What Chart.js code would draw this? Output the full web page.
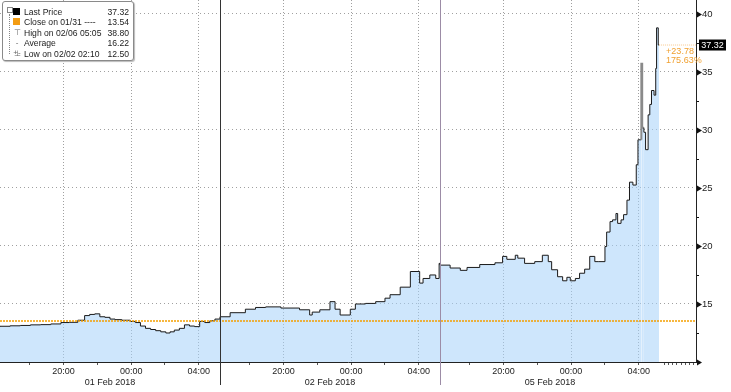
<!DOCTYPE html>
<html>
<head>
<meta charset="utf-8">
<script src="https://cdn.jsdelivr.net/npm/chart.js@4.4.1/dist/chart.umd.min.js"></script>
<style>
  body { margin: 0; background: #fff; }
  #wrap { position: relative; width: 731px; height: 392px; }
  #legend {
    position: absolute; left: 2px; top: 1px; width: 130px; height: 58px;
    background: #fff; border: 1px solid #8a8a8a; border-radius: 3px;
    box-shadow: 1px 1px 1px #bbb;
    font: 8.6px 'Liberation Sans', sans-serif; color: #222;
  }
  #legend .row { position: absolute; left: 0; width: 126px; height: 10px; line-height: 10px; }
  #legend .name { position: absolute; left: 21px; }
  #legend .val { position: absolute; right: 0; }
  #legend .icon { position: absolute; left: 10px; top: 1px; width: 7px; height: 7px; }
  #legend .glyph { position: absolute; left: 10px; width: 8px; text-align: center; color: #666; font-size: 8px; }
  #legend .tree { position: absolute; left: 6px; top: 12px; width: 3px; height: 40px; border-left: 1px dotted #888; }
  #legend .minus { position: absolute; left: 4px; top: 5px; width: 4px; height: 4px; border: 1px solid #888; background: #fff; }
</style>
</head>
<body>
<div id="wrap">
  <canvas id="vixChart" width="731" height="392"></canvas>
  <div id="legend"></div>
</div>
<script>
  // hours after session open (16:15), each session 13 hours long
  const sessionLen = 13;
  const sessionDates = ['01 Feb 2018', '02 Feb 2018', '05 Feb 2018'];
  const tickHours = [1.75, 3.75, 5.75, 7.75, 9.75, 11.75];
  const tickNames = ['', '20:00', '', '00:00', '', '04:00'];

  const s1Hours = [0, 0.6, 1.2, 1.8, 2.4, 3.0, 3.6, 4.1, 4.6, 5.0, 5.3, 5.6, 5.9, 6.2, 6.5, 6.8, 7.2, 7.7, 8.0, 8.3,
    8.6, 8.9, 9.2, 9.5, 9.8, 10.05, 10.3, 10.6, 10.9, 11.2, 11.5, 11.8, 12.1, 12.4, 12.7];
  const s1Price = [13.05, 13.08, 13.12, 13.15, 13.2, 13.22, 13.28, 13.4, 13.42, 13.6, 14.0, 14.1, 14.15, 13.9, 13.85, 13.7, 13.65, 13.6, 13.5, 13.4,
    13.1, 12.9, 12.8, 12.7, 12.6, 12.5, 12.6, 12.75, 12.9, 13.2, 13.1, 13.05, 13.5, 13.4, 13.55];

  const s2Hours = [13.0, 13.6, 14.5, 15.1, 15.7, 16.6, 17.7, 18.3, 18.45, 18.9, 19.5, 19.8, 20.1, 20.7, 21.0, 21.6, 22.2, 22.75,
    23.05, 23.65, 24.25, 24.8, 25.0, 25.4, 25.75, 25.95];
  const s2Price = [13.7, 13.9, 14.25, 14.55, 14.7, 14.75, 14.65, 14.5, 14.05, 14.3, 14.5, 15.2, 14.55, 14.05, 14.55, 15.0, 15.05, 15.2,
    15.5, 15.8, 16.45, 17.8, 16.8, 17.2, 17.5, 17.2];

  const s3Hours = [26.0, 26.6, 27.2, 27.6, 28.35, 29.25, 29.7, 29.95, 30.45, 30.6, 31.0, 31.6, 32.05, 32.4, 32.6, 32.95, 33.25, 33.5,
    33.7, 34.0, 34.25, 34.55, 34.85, 35.15, 35.35, 35.75, 35.85, 36.05, 36.2, 36.4, 36.5, 36.7, 36.85, 37.05, 37.2, 37.4, 37.6, 37.7,
    37.9, 37.95, 38.05, 38.15, 38.3, 38.4, 38.5, 38.65, 38.75, 38.8, 38.9, 38.95];
  const s3Price = [18.5, 18.35, 18.1, 17.9, 18.15, 18.4, 18.55, 19.1, 18.85, 19.2, 18.95, 18.5, 18.65, 19.2, 18.65, 17.95, 17.35, 17.0,
    17.3, 17.0, 17.2, 17.65, 18.0, 19.1, 18.65, 18.65, 19.95, 21.2, 22.1, 22.25, 22.8, 21.95, 22.25, 22.7, 23.95, 25.5, 25.25, 27.0,
    29.15, 35.7, 30.2, 29.8, 28.3, 31.3, 32.2, 33.4, 33.0, 35.3, 38.8, 37.32];

  const closePrice = 13.54;
  const lastPrice = 37.32;
  const spikePrice = 35.7;
  const legendNames = ['Last Price', 'Close on 01/31 ----', 'High on 02/06 05:05', 'Average', 'Low on 02/02 02:10'];
  const legendValues = ['37.32', '13.54', '38.80', '16.22', '12.50'];

  const xMax = 41.13;
  const hours = s1Hours.concat(s2Hours, s3Hours);
  const price = s1Price.concat(s2Price, s3Price);
  const lastHour = hours[hours.length - 1];
  const spikeIndex = price.indexOf(spikePrice);

  // x ticks: time labels, date labels (mid session), minor marks
  let xTicks = [];
  for (let s = 0; s < sessionDates.length; s++) {
    tickHours.forEach((h, i) => {
      const v = s * sessionLen + h;
      xTicks.push({ value: v, label: tickNames[i], kind: tickNames[i] ? 'major' : 'minor' });
    });
    xTicks.push({ value: s * sessionLen + sessionLen / 2, label: ['', sessionDates[s]], kind: 'date' });
  }
  for (let v = 39.25; v < xMax; v += 0.25) xTicks.push({ value: v, label: '', kind: 'minor' });
  xTicks.sort((a, b) => a.value - b.value);

  // legend
  const legendEl = document.getElementById('legend');
  let html = '<div class="minus"></div><div class="tree"></div>';
  legendNames.forEach((name, i) => {
    let icon = '';
    if (i === 0) icon = '<div class="icon" style="background:#000"></div>';
    else if (i === 1) icon = '<div class="icon" style="background:#f39c12"></div>';
    else if (i === 2) icon = '<div class="glyph">&#8868;</div>';
    else if (i === 3) icon = '<div class="glyph">-+-</div>';
    else icon = '<div class="glyph">&#8869;</div>';
    html += '<div class="row" style="top:' + (5 + i * 10.4) + 'px">' + icon +
      '<span class="name">' + name + '</span><span class="val">' + legendValues[i] + '</span></div>';
  });
  legendEl.innerHTML = html;

  const markers = {
    id: 'markers',
    afterDatasetsDraw(chart) {
      const { ctx, chartArea, scales: { x } } = chart;
      ctx.save();
      sessionDates.forEach((d, i) => {
        if (i === 0) return;
        const px = Math.round(x.getPixelForValue(i * sessionLen)) + 0.5;
        ctx.strokeStyle = i === 1 ? '#333' : '#9c8ca6';
        ctx.lineWidth = 1;
        ctx.beginPath();
        ctx.moveTo(px, chartArea.top);
        ctx.lineTo(px, 385);
        ctx.stroke();
      });
      ctx.restore();
    },
    afterDraw(chart) {
      const { ctx, chartArea, scales: { x, y } } = chart;
      const r = chartArea.right;
      ctx.save();
      ctx.fillStyle = '#111';
      for (let v = 10; v <= 40; v += 2.5) {
        const py = Math.round(y.getPixelForValue(v));
        if (v % 5 === 0) {
          ctx.beginPath();
          ctx.moveTo(r + 1, py - 2.5);
          ctx.lineTo(r + 6, py + 0.5);
          ctx.lineTo(r + 1, py + 3.5);
          ctx.closePath();
          ctx.fill();
        } else {
          ctx.fillRect(r + 1, py, 2, 1);
        }
      }
      // last price box
      const ly = y.getPixelForValue(lastPrice);
      ctx.fillStyle = '#000';
      ctx.fillRect(r + 3, ly - 5.5, 27, 11);
      ctx.fillStyle = '#fff';
      ctx.font = "9px 'Liberation Sans'";
      ctx.textAlign = 'center';
      ctx.textBaseline = 'middle';
      ctx.fillText(lastPrice.toFixed(2), r + 16.5, ly + 0.5);
      // change since close
      const diff = lastPrice - closePrice;
      const lx = x.getPixelForValue(lastHour) + 7;
      ctx.fillStyle = '#f0a030';
      ctx.textAlign = 'left';
      ctx.fillText('+' + diff.toFixed(2), lx, ly + 6);
      ctx.fillText((diff / closePrice * 100).toFixed(2) + '%', lx, ly + 15.5);
      ctx.restore();
    }
  };

  const ctxVix = document.getElementById('vixChart').getContext('2d');
  const vixChart = new Chart(ctxVix, {
    type: 'line',
    data: {
      datasets: [
        {
          label: 'Close',
          data: [{ x: 0, y: closePrice }, { x: xMax, y: closePrice }],
          borderColor: '#f5a000',
          borderWidth: 1.5,
          borderDash: [2, 1],
          pointRadius: 0,
          fill: false,
          order: 1,
        },
        {
          label: 'Last',
          data: [{ x: lastHour, y: lastPrice }, { x: xMax, y: lastPrice }],
          borderColor: '#f8c88a',
          borderWidth: 1,
          borderDash: [1, 1],
          pointRadius: 0,
          fill: false,
          order: 1,
        },
        {
          label: 'Last Price',
          data: hours.map((h, i) => ({ x: h, y: price[i] })),
          stepped: 'after',
          borderColor: '#1a1a1a',
          borderWidth: 1,
          segment: {
            borderColor: (c) => (c.p0DataIndex === spikeIndex - 1 || c.p0DataIndex === spikeIndex ? '#8a8a8a' : undefined),
            borderWidth: (c) => (c.p0DataIndex === spikeIndex - 1 || c.p0DataIndex === spikeIndex ? 2 : undefined),
          },
          backgroundColor: 'rgba(165,210,250,0.55)',
          fill: 'start',
          pointRadius: 0,
          order: 2,
        },
      ],
    },
    options: {
      responsive: false,
      animation: false,
      layout: { padding: 0 },
      plugins: { legend: { display: false }, tooltip: { enabled: false } },
      scales: {
        x: {
          type: 'linear',
          min: 0,
          max: xMax,
          afterBuildTicks: (scale) => { scale.ticks = xTicks.map((t) => ({ value: t.value })); },
          afterFit: (scale) => { scale.height = 30; scale.paddingLeft = 0; scale.paddingRight = 0; },
          ticks: {
            autoSkip: false,
            maxRotation: 0,
            padding: 1,
            color: '#222',
            font: { family: 'Liberation Sans', size: 9 },
            callback: (value, index) => xTicks[index].label,
          },
          grid: {
            color: (c) => (xTicks[c.index] && xTicks[c.index].kind === 'major' ? '#a0a0a0' : 'transparent'),
            tickColor: (c) => (xTicks[c.index] && xTicks[c.index].kind === 'date' ? 'transparent' : '#555'),
            tickLength: 3,
          },
          border: { color: '#222', dash: [1, 2] },
        },
        y: {
          position: 'right',
          min: 10,
          max: 41.2,
          afterFit: (scale) => { scale.width = 35; scale.paddingTop = 0; scale.paddingBottom = 0; },
          ticks: {
            stepSize: 2.5,
            padding: 1,
            color: '#222',
            font: { family: 'Liberation Sans', size: 9.5 },
            callback: (value) => (value % 5 === 0 && value > 10 ? value : ''),
          },
          grid: {
            color: (c) => (c.tick && c.tick.value % 5 === 0 && c.tick.value > 10 ? '#a0a0a0' : 'transparent'),
            tickColor: 'transparent',
            tickLength: 5,
          },
          border: { color: '#222', dash: [1, 3] },
        },
      },
    },
    plugins: [markers],
  });
</script>
</body>
</html>
